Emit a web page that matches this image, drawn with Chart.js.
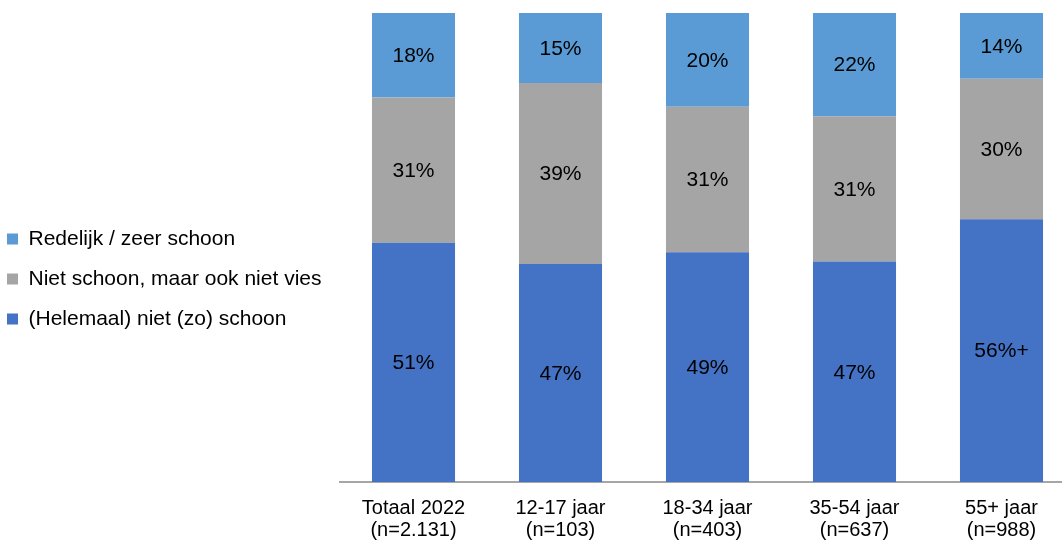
<!DOCTYPE html>
<html>
<head>
<meta charset="utf-8">
<script src="https://cdn.jsdelivr.net/npm/chart.js@4.4.1/dist/chart.umd.min.js"></script>
<style>
  html, body { margin: 0; padding: 0; background: #fff; overflow: hidden; }
  #wrap { width: 1062px; height: 545px; overflow: hidden; }
  canvas { display: block; }
</style>
</head>
<body>
<div id="wrap"><canvas id="c" width="1075" height="545"></canvas></div>
<script>
const categories = [
  ['Totaal 2022', '(n=2.131)'],
  ['12-17 jaar', '(n=103)'],
  ['18-34 jaar', '(n=403)'],
  ['35-54 jaar', '(n=637)'],
  ['55+ jaar', '(n=988)']
];
const seriesNames = ['(Helemaal) niet (zo) schoon', 'Niet schoon, maar ook niet vies', 'Redelijk / zeer schoon'];
const nietSchoon = [51, 46.5, 49, 47, 56];
const neutraal = [31, 38.6, 31, 31, 30];
const schoon = [18, 14.9, 20, 22, 14];
const nietSchoonMarks = ['', '', '', '', '+'];
const colors = ['#4472C4', '#A5A5A5', '#5B9BD5'];

const FONT = '"Liberation Sans", Arial, sans-serif';
const PAD_LEFT = -12;
const PLOT_LEFT = 340;

const seriesValues = [nietSchoon, neutraal, schoon];
const seriesMarks = [nietSchoonMarks, ['', '', '', '', ''], ['', '', '', '', '']];

const labelPlugin = {
  id: 'segLabels',
  afterDatasetsDraw(chart) {
    const ctx = chart.ctx;
    const area = chart.chartArea;
    ctx.save();
    ctx.font = '21px ' + FONT;
    ctx.fillStyle = '#000';
    ctx.textAlign = 'center';
    ctx.textBaseline = 'middle';
    chart.data.datasets.forEach((ds, i) => {
      const meta = chart.getDatasetMeta(i);
      meta.data.forEach((el, j) => {
        const top = Math.max(Math.min(el.y, el.base), area.top);
        const bot = Math.min(Math.max(el.y, el.base), area.bottom);
        const txt = Math.round(seriesValues[i][j]) + '%' + seriesMarks[i][j];
        ctx.fillText(txt, el.x, (top + bot) / 2 + 1);
      });
    });
    ctx.restore();
  }
};

new Chart(document.getElementById('c'), {
  type: 'bar',
  data: {
    labels: categories,
    datasets: seriesValues.map((vals, i) => ({
      label: seriesNames[i],
      data: vals,
      backgroundColor: colors[i],
      borderWidth: 0,
      categoryPercentage: 1,
      barPercentage: 0.565
    }))
  },
  options: {
    responsive: false,
    animation: false,
    events: [],
    layout: { padding: { top: 13, left: PAD_LEFT, right: 0, bottom: 0 } },
    plugins: {
      tooltip: { enabled: false },
      legend: {
        position: 'left',
        align: 'center',
        reverse: true,
        labels: {
          boxWidth: 11,
          boxHeight: 11,
          padding: 19,
          color: '#000',
          font: { family: FONT, size: 21 }
        }
      }
    },
    scales: {
      x: {
        stacked: true,
        grid: { display: false, drawTicks: false },
        border: { display: true, color: '#A6A6A6', width: 2 },
        ticks: {
          color: '#000',
          padding: 15,
          maxRotation: 0,
          autoSkip: false,
          font: { family: FONT, size: 20, lineHeight: 1.1 }
        },
        afterFit(scale) { scale.height = 63; }
      },
      y: {
        display: false,
        stacked: true,
        min: 0,
        max: 100,
        afterFit(scale) {
          const lg = scale.chart.legend;
          const w = lg ? lg.width : 0;
          scale.width = Math.max(0, PLOT_LEFT - PAD_LEFT - w);
        }
      }
    }
  },
  plugins: [labelPlugin]
});
</script>
</body>
</html>
